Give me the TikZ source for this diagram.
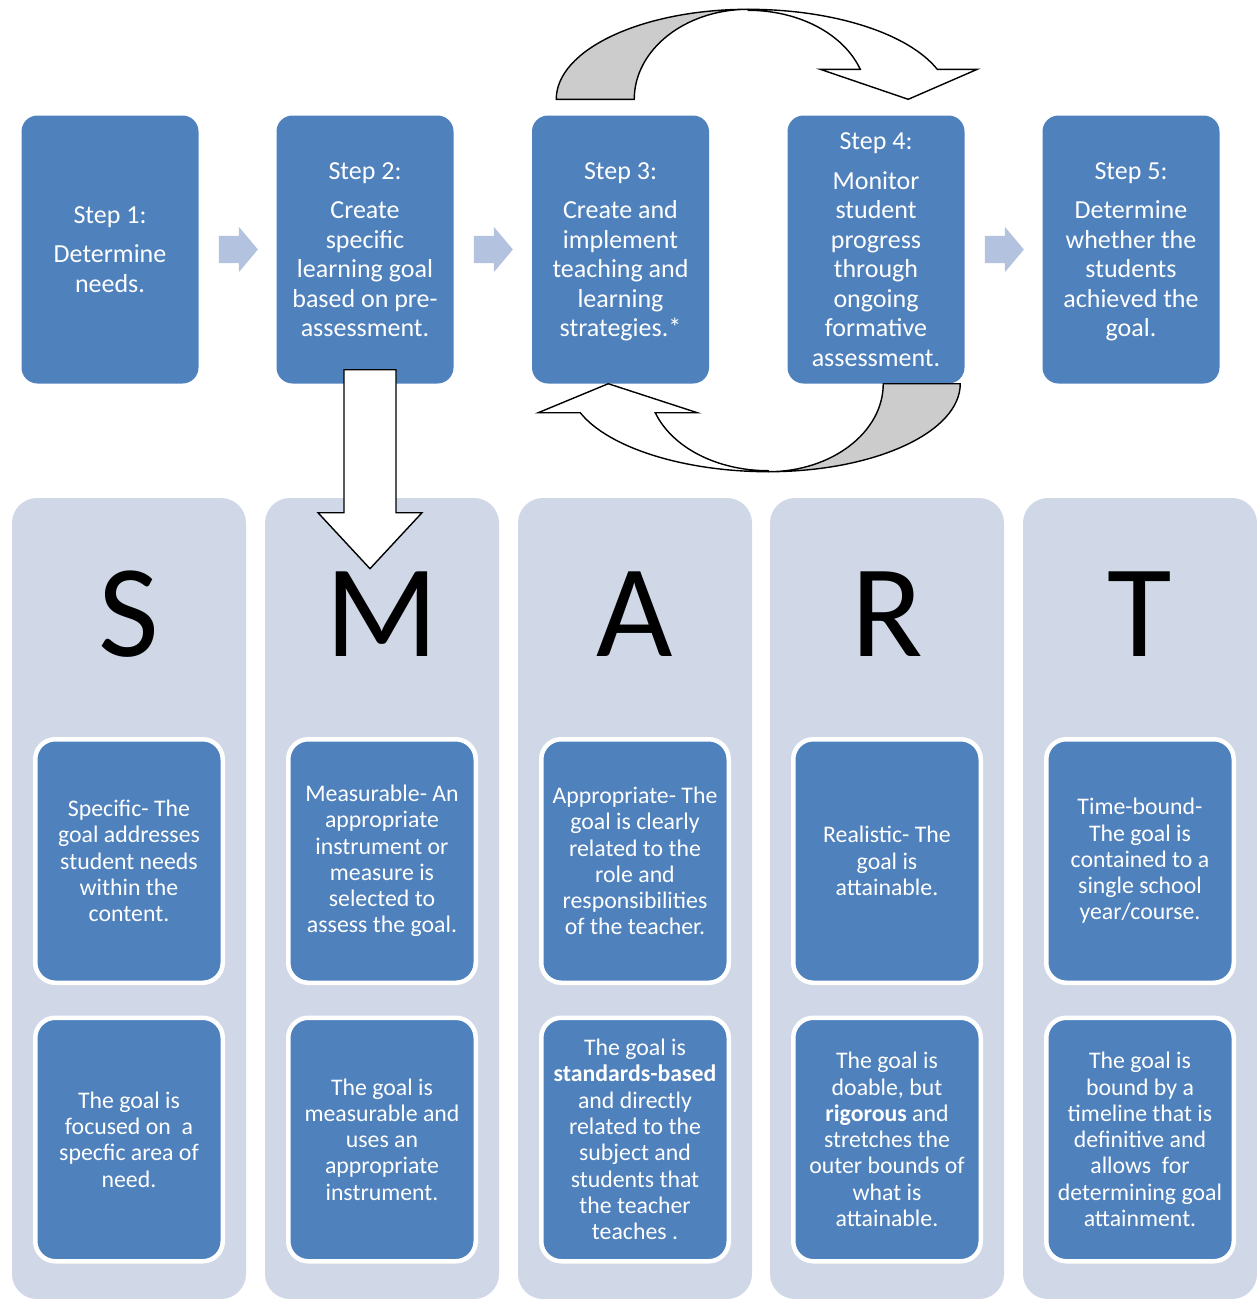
\documentclass[tikz,border=0pt]{standalone}
\usepackage{fontspec}
\setmainfont{Carlito}
\usepackage{tikz}
\usetikzlibrary{calc,shapes.arrows}
\definecolor{stepblue}{HTML}{4F81BD}
\definecolor{colblue}{HTML}{D0D8E8}
\definecolor{arrblue}{HTML}{B3C2DE}
\definecolor{ribgray}{HTML}{CCCCCC}
\tikzset{stepbox/.style={rectangle,fill=stepblue,rounded corners=16pt,minimum width=177pt,minimum height=268pt,inner sep=0pt,text depth=0pt,text=white,align=center,font=\fontsize{26}{29.5}\selectfont},col/.style={rectangle,fill=colblue,rounded corners=25pt,minimum width=234pt,minimum height=801pt,inner sep=0pt},goalbox/.style={rectangle,fill=stepblue,draw=white,line width=4.5pt,rounded corners=20pt,minimum width=187.5pt,minimum height=243.5pt,inner sep=0pt,text=white,align=center,font=\fontsize{23.8}{26.3}\selectfont},lett/.style={inner sep=0pt,font=\fontsize{132}{132}\selectfont}}
\tikzset{flow/.style={single arrow,fill=arrblue,anchor=tail,single arrow head extend=9pt,single arrow tip angle=100,minimum height=39pt,inner xsep=0pt,inner ysep=13.5pt},ribbon/.style={draw=black,line width=1.4pt,line join=miter}}

\begin{document}
\begin{tikzpicture}[x=1pt, y=-1pt]
\useasboundingbox (0,0) rectangle (1257,1299);
\node[col] (cS) at (129,898.5) {};
\node[col] (cM) at (382,898.5) {};
\node[col] (cA) at (635,898.5) {};
\node[col] (cR) at (887,898.5) {};
\node[col] (cT) at (1140,898.5) {};
\node[lett] (lS) at (129,614) {S};
\node[lett] (lM) at (382,614) {M};
\node[lett] (lA) at (635,614) {A};
\node[lett] (lR) at (887,614) {R};
\node[lett] (lT) at (1140,614) {T};
\node[goalbox] (gS1) at (129,861) {Specific- The\\goal addresses\\student needs\\within the\\content.};
\node[goalbox] (gS2) at (129,1139.5) {The goal is\\focused on\ \ a\\specfic area of\\need.};
\node[goalbox] (gM1) at (382,861) {Measurable- An\\appropriate\\instrument or\\measure is\\selected to\\assess the goal.};
\node[goalbox] (gM2) at (382,1139.5) {The goal is\\measurable and\\uses an\\appropriate\\instrument.};
\node[goalbox] (gA1) at (635,861) {Appropriate- The\\goal is clearly\\related to the\\role and\\responsibilities\\of the teacher.};
\node[goalbox] (gA2) at (635,1139.5) {The goal is\\\textbf{standards-based}\\and directly\\related to the\\subject and\\students that\\the teacher\\teaches .};
\node[goalbox] (gR1) at (887,861) {Realistic- The\\goal is\\attainable.};
\node[goalbox] (gR2) at (887,1139.5) {The goal is\\doable, but\\\textbf{rigorous} and\\stretches the\\outer bounds of\\what is\\attainable.};
\node[goalbox] (gT1) at (1140,861) {Time-bound-\\The goal is\\contained to a\\single school\\year/course.};
\node[goalbox] (gT2) at (1140,1139.5) {The goal is\\bound by a\\timeline that is\\definitive and\\allows\ \ for\\determining goal\\attainment.};
\node[stepbox] (s1) at (110,249.5) {Step 1:\\[10pt]Determine\\needs.};
\node[stepbox] (s2) at (365,249.5) {Step 2:\\[10pt]Create\\specific\\learning goal\\based on pre-\\assessment.};
\node[stepbox] (s3) at (620.5,249.5) {Step 3:\\[10pt]Create and\\implement\\teaching and\\learning\\strategies.*};
\node[stepbox] (s4) at (876,249.5) {Step 4:\\[10pt]Monitor\\student\\progress\\through\\ongoing\\formative\\assessment.};
\node[stepbox] (s5) at (1131,249.5) {Step 5:\\[10pt]Determine\\whether the\\students\\achieved the\\goal.};
\node[flow] (f12) at ($(s1.east)+(20,0)$) {};
\node[flow] (f23) at ($(s2.east)+(20,0)$) {};
\node[flow] (f45) at ($(s4.east)+(20,0)$) {};
\begin{scope}[shift={(s2.south)}]
\draw[ribbon,fill=white] (-21,-14) -- (31,-14) -- (31,129) -- (57,129) -- (5,185) -- (-47,129) -- (-21,129) -- cycle;
\end{scope}
\begin{scope}[shift={($(s3.north)!.5!(s4.north)+(0,-16)$)}]
\draw[ribbon,fill=ribgray] (-192,0) .. controls (-192,-49.7) and (-106,-90) .. (0,-90) .. controls (-63,-90) and (-114,-49.7) .. (-114,0) -- cycle;
\draw[ribbon,fill=white] (0,-90) .. controls (85,-90) and (160,-66) .. (189,-30) -- (229,-30) -- (160,0) -- (72,-30) -- (112,-30) .. controls (95,-66) and (50,-89) .. (0,-89) -- cycle;
\end{scope}
\begin{scope}[shift={($(s3.south)!.5!(s4.south)+(20,0)$)}]
\draw[ribbon,fill=ribgray] (192,0) .. controls (192,48.6) and (106,88) .. (0,88) .. controls (63.5,88) and (115,48.6) .. (115,0) -- cycle;
\draw[ribbon,fill=white] (0,88) .. controls (-84,88) and (-160,64) .. (-188,29) -- (-230,29) -- (-160,0) -- (-71,29) -- (-113,29) .. controls (-96,64) and (-51,87) .. (0,87) -- cycle;
\end{scope}
\end{tikzpicture}
\end{document}
